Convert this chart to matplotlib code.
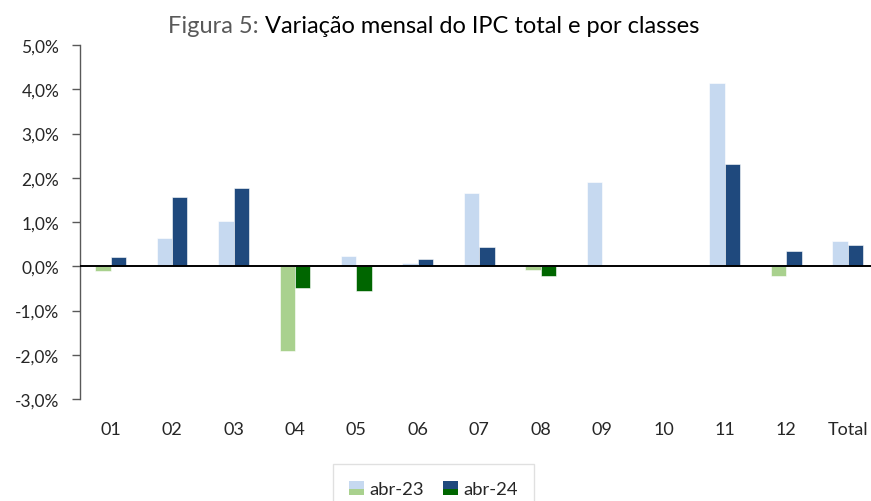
import matplotlib
matplotlib.use("Agg")
import matplotlib.pyplot as plt
import numpy as np
from matplotlib.legend_handler import HandlerBase
from matplotlib.patches import Rectangle
from matplotlib.ticker import FuncFormatter

categories = ["01", "02", "03", "04", "05", "06", "07", "08", "09", "10", "11", "12", "Total"]
abr23 = [-0.10, 0.63, 1.02, -1.91, 0.23, 0.07, 1.65, -0.08, 1.91, 0.02, 4.14, -0.21, 0.57]
abr24 = [0.20, 1.57, 1.76, -0.49, -0.56, 0.16, 0.44, -0.22, 0.00, 0.00, 2.32, 0.34, 0.48]
yticks = [-3, -2, -1, 0, 1, 2, 3, 4, 5]

c23_pos, c23_neg = "#C6D9F0", "#A9D18E"
c24_pos, c24_neg = "#1F497D", "#006600"

plt.rcParams['font.family'] = ['Lato', 'DejaVu Sans']

fig = plt.figure(figsize=(8.71, 5.02), dpi=100)
W, H = 871, 502
ax = fig.add_axes([80 / W, 102 / H, (871 - 80) / W, (400 - 46) / H])

x = np.arange(len(categories))
bw = 0.25
col23 = [c23_pos if v >= 0 else c23_neg for v in abr23]
col24 = [c24_pos if v >= 0 else c24_neg for v in abr24]
ax.bar(x - bw / 2, abr23, width=bw, color=col23, edgecolor="white", linewidth=0.4)
ax.bar(x + bw / 2, abr24, width=bw, color=col24, edgecolor="white", linewidth=0.4)

ax.axhline(0, color="black", linewidth=1.4, zorder=3)
ax.set_xlim(-0.5, 12.38)
ax.set_ylim(-3, 5)
ax.set_yticks(yticks)
ax.yaxis.set_major_formatter(FuncFormatter(lambda v, p: f"{v:.1f}%".replace(".", ",")))
ax.set_xticks(x)
ax.set_xticklabels(categories)

for s in ["top", "right", "bottom"]:
    ax.spines[s].set_visible(False)
ax.spines["left"].set_color("#595959")
ax.spines["left"].set_linewidth(1.0)
ax.tick_params(axis="y", length=6, width=1.0, color="#595959", pad=9, labelsize=12.5, labelcolor="#262626")
ax.tick_params(axis="x", length=0, pad=16, labelsize=13, labelcolor="#262626")

# two-colour centered title
title_y = 1 - 33 / H
tfs = 17
fig.canvas.draw()
r = fig.canvas.get_renderer()
tmp_full = fig.text(0.5, 0.5, "Figura 5: Variação mensal do IPC total e por classes", fontsize=tfs)
wfull = tmp_full.get_window_extent(r).width
tmp_full.remove()
tmp_a = fig.text(0.5, 0.5, "Figura 5: ", fontsize=tfs)
wa = tmp_a.get_window_extent(r).width
tmp_a.remove()
start = 434 - wfull / 2
fig.text(start / W, title_y, "Figura 5: ", fontsize=tfs, color="#595959", ha="left", va="baseline")
fig.text((start + wa) / W, title_y, "Variação mensal do IPC total e por classes",
         fontsize=tfs, color="black", ha="left", va="baseline")


class SplitHandler(HandlerBase):
    def __init__(self, top, bot):
        super().__init__()
        self.top, self.bot = top, bot

    def create_artists(self, legend, orig_handle, xdescent, ydescent, width, height, fontsize, trans):
        y0 = -ydescent
        r1 = Rectangle((-xdescent, y0 + height * 0.4), width, height * 0.6, facecolor=self.top,
                       edgecolor="none", transform=trans)
        r2 = Rectangle((-xdescent, y0), width, height * 0.4, facecolor=self.bot,
                       edgecolor="none", transform=trans)
        return [r1, r2]


h1 = Rectangle((0, 0), 1, 1)
h2 = Rectangle((0, 0), 1, 1)
leg = fig.legend([h1, h2], ["abr-23", "abr-24"],
                 handler_map={h1: SplitHandler(c23_pos, c23_neg), h2: SplitHandler(c24_pos, c24_neg)},
                 loc="upper center", bbox_to_anchor=(433.5 / W, 1 - 465 / H), ncol=2,
                 fontsize=13.3, frameon=True, fancybox=False, edgecolor="#d9d9d9",
                 handlelength=0.8, handleheight=0.8, handletextpad=0.3, columnspacing=1.0,
                 borderpad=0.9, borderaxespad=0)
leg.get_frame().set_linewidth(1.0)
for t in leg.get_texts():
    t.set_color("#262626")

fig.savefig("out.png", dpi=100)
